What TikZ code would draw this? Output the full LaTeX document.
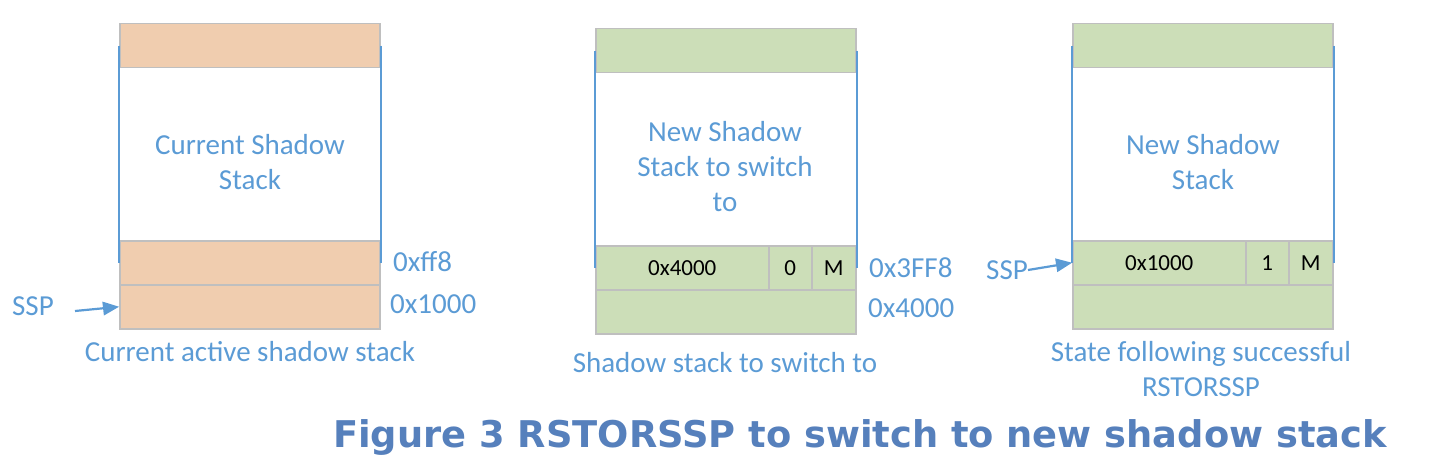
\documentclass[tikz,border=0pt]{standalone}
\usepackage{fontspec}
\setmainfont{Carlito}
\newfontfamily\capfont{DejaVu Sans}
\usetikzlibrary{arrows.meta}
\definecolor{txtblue}{HTML}{5B9BD5}
\definecolor{capblue}{HTML}{5680BC}
\definecolor{orangefill}{HTML}{F0CDAF}
\definecolor{greenfill}{HTML}{CCDEB8}
\definecolor{bordergray}{HTML}{BFBFBF}
\tikzset{
  band/.style={draw=bordergray, line width=1.5pt, minimum width=260pt, minimum height=44pt, inner sep=0pt, anchor=north west},
  cell/.style={draw=bordergray, line width=1.5pt, minimum height=44pt, inner sep=0pt, anchor=north west, fill=greenfill, font=\fontsize{23}{26}\selectfont, text=black},
  side/.style={draw=txtblue, line width=2pt},
  bluetxt/.style={text=txtblue, font=\fontsize{29}{35}\selectfont, inner sep=0pt},
  ptr/.style={draw=txtblue, line width=2.2pt, shorten >=12pt},
  ptrhead/.style={fill=txtblue}
}
\begin{document}
\begin{tikzpicture}[x=1pt,y=-1pt]
\useasboundingbox (0,0) rectangle (1444,468);
% ---------- left stack ----------
\node[band, fill=orangefill] (L1) at (119,23) {};
\node[band, fill=orangefill] (L2) at (119,240) {};
\node[band, fill=orangefill] (L3) at (119,284) {};
\draw[side] (L1.west) -- (L2.west);
\draw[side] (L1.east) -- (L2.east);
\node[bluetxt, align=center] (Ltxt) at (250,162) {Current Shadow\\Stack};
\node[bluetxt, anchor=west] (Lff8) at (393,262) {0xff8};
\node[bluetxt, anchor=west] (L1000) at (390,304) {0x1000};
\node[bluetxt] (sspL) at (33,306) {SSP};
\coordinate (sspLs) at (75,311);
\draw[ptr] (sspLs) -- (L3.west);
\fill[ptrhead] (L3.west) -- ([shift={(-15.1,8.8)}]L3.west) -- ([shift={(-16.7,-5.2)}]L3.west) -- cycle;
\node[bluetxt] (Lcap) at (250,352) {Current active shadow stack};
% ---------- middle stack ----------
\node[band, fill=greenfill] (M1) at (595,28) {};
\node[cell, minimum width=173pt] (M2a) at (595,245) {0x4000};
\node[cell, minimum width=43pt] (M2b) at (768,245) {0};
\node[cell, minimum width=44pt] (M2c) at (811,245) {M};
\node[band, fill=greenfill] (M3) at (595,289) {};
\draw[side] (M1.west) -- (M2a.west);
\draw[side] (M1.east) -- (M2c.east);
\node[bluetxt, align=center] (Mtxt) at (725,167) {New Shadow\\Stack to switch\\to};
\node[bluetxt, anchor=west] (M3ff8) at (869,268) {0x3FF8};
\node[bluetxt, anchor=west] (M4000) at (868,308) {0x4000};
\node[bluetxt] (Mcap) at (725,363) {Shadow stack to switch to};
% ---------- right stack ----------
\node[band, fill=greenfill] (R1) at (1072,23) {};
\node[cell, minimum width=173pt] (R2a) at (1072,240) {0x1000};
\node[cell, minimum width=43pt] (R2b) at (1245,240) {1};
\node[cell, minimum width=44pt] (R2c) at (1288,240) {M};
\node[band, fill=greenfill] (R3) at (1072,284) {};
\draw[side] (R1.west) -- (R2a.west);
\draw[side] (R1.east) -- (R2c.east);
\node[bluetxt, align=center] (Rtxt) at (1203,162) {New Shadow\\Stack};
\node[bluetxt] (sspR) at (1007,270) {SSP};
\draw[ptr] (sspR.east) -- (R2a.west);
\fill[ptrhead] (R2a.west) -- ([shift={(-14.7,9.4)}]R2a.west) -- ([shift={(-16.9,-4.4)}]R2a.west) -- cycle;
\node[bluetxt, align=center] (Rcap) at (1201,369) {State following successful\\RSTORSSP};
% ---------- caption ----------
\node[text=capblue, inner sep=0pt, font=\capfont\bfseries\fontsize{36.8}{40}\selectfont] (fig) at (860,437) {Figure 3 RSTORSSP to switch to new shadow stack};
\end{tikzpicture}
\end{document}
